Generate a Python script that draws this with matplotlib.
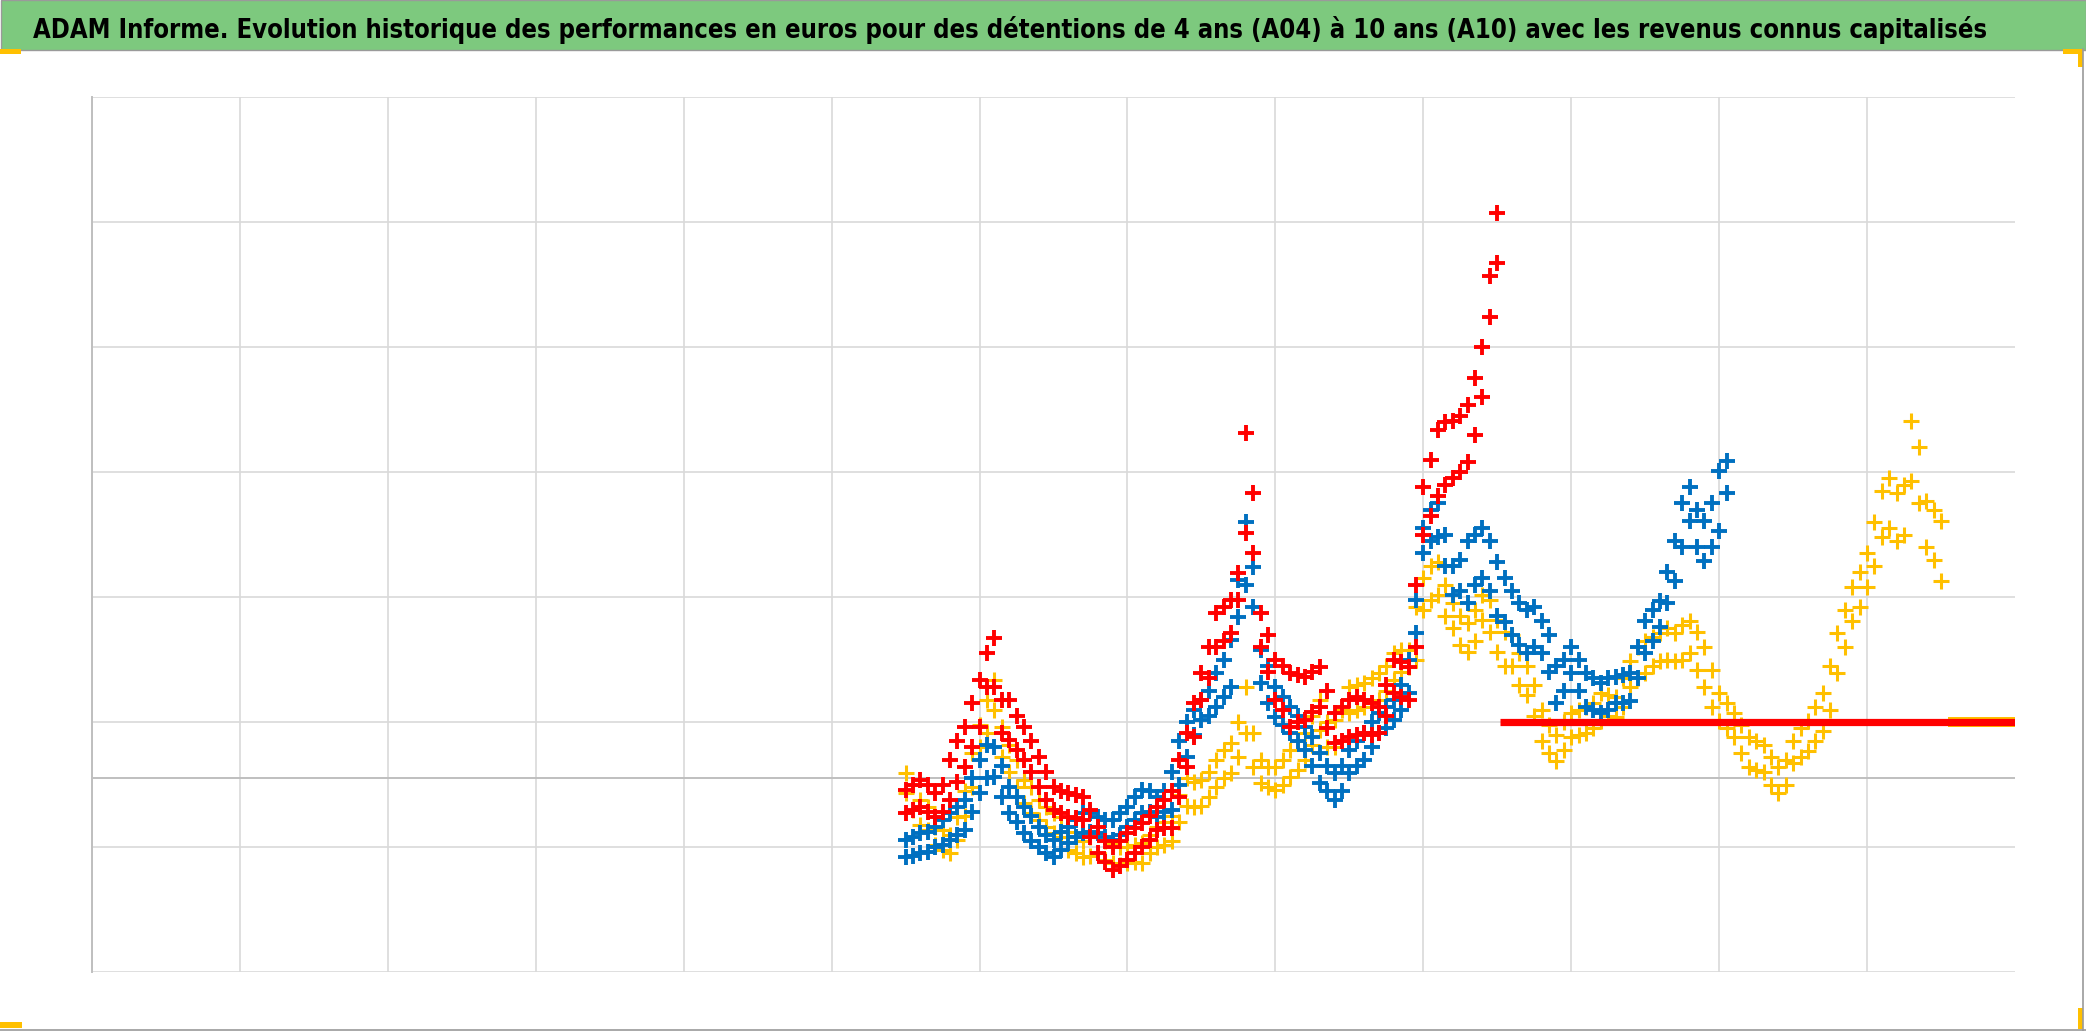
import matplotlib
matplotlib.use("Agg")
import matplotlib.pyplot as plt
from matplotlib.patches import Rectangle
from matplotlib.lines import Line2D

W, H = 2086, 1031

TITLE = ("ADAM Informe. Evolution historique des performances en euros pour des "
         "détentions de 4 ans (A04) à 10 ans (A10) avec les revenus connus capitalisés")

# yellow series (upper / lower edge of the cloud), read on whole tenths
yel_x = [5.5, 5.6, 5.7, 5.8, 5.9, 6.0, 6.1, 6.2, 6.3, 6.4, 6.5, 6.6, 6.7, 6.8, 6.9,
         7.0, 7.1, 7.2, 7.3, 7.4, 7.5, 7.6, 7.7, 7.8, 7.9, 8.0, 8.1, 8.2, 8.3, 8.4,
         8.5, 8.6, 8.7, 8.8, 8.9, 8.95, 9.0, 9.1, 9.2, 9.3, 9.4, 9.5, 9.6, 9.7, 9.8,
         9.9, 10.0, 10.1, 10.2, 10.3, 10.4, 10.5, 10.6, 10.7, 10.8, 10.9, 11.0, 11.1,
         11.2, 11.3, 11.4, 11.5, 11.6, 11.7, 11.8, 11.9, 12.0, 12.1, 12.2, 12.3, 12.4,
         12.5]
yel_hi = [1.59, 1.38, 1.16, 1.10, 1.45, 1.98, 2.34, 1.82, 1.54, 1.38, 1.27, 1.12, 1.05,
          1.11, 1.03, 1.00, 1.03, 1.16, 1.25, 1.55, 1.54, 1.70, 1.83, 2.28, 1.70, 1.64,
          1.78, 1.91, 2.18, 2.02, 2.28, 2.31, 2.39, 2.55, 2.58, 2.92, 3.15, 3.28, 2.95,
          2.79, 3.02, 2.82, 2.70, 2.45, 2.10, 1.90, 2.07, 2.12, 2.23, 2.20, 2.49, 2.65,
          2.71, 2.71, 2.81, 2.60, 2.23, 2.07, 1.88, 1.82, 1.64, 1.85, 2.01, 2.23, 2.71,
          3.08, 3.35, 3.85, 3.83, 4.41, 3.77, 3.61]
yel_lo = [1.43, 1.18, 1.02, 0.95, 1.25, 1.80, 2.10, 1.60, 1.35, 1.22, 1.11, 0.98, 0.92,
          0.95, 0.87, 0.87, 0.87, 1.00, 1.05, 1.33, 1.33, 1.48, 1.59, 1.91, 1.51, 1.46,
          1.56, 1.70, 1.94, 1.80, 2.07, 2.12, 2.18, 2.34, 2.44, 2.50, 2.90, 3.02, 2.75,
          2.56, 2.82, 2.56, 2.45, 2.22, 1.85, 1.69, 1.88, 1.91, 2.01, 2.04, 2.28, 2.39,
          2.49, 2.49, 2.55, 2.28, 2.01, 1.88, 1.64, 1.60, 1.43, 1.67, 1.77, 1.93, 2.39,
          2.81, 3.08, 3.48, 3.45, 3.93, 3.40, 3.13]
# yellow, read half-way between the tenths
yel_x2 = [5.55, 5.65, 5.75, 5.85, 5.95, 6.05, 6.15, 6.25, 6.35, 6.45, 6.55, 6.65, 6.75,
          6.85, 6.95, 7.05, 7.15, 7.25, 7.35, 7.45, 7.55, 7.65, 7.75, 7.85, 7.95, 8.05,
          8.15, 8.25, 8.35, 8.45, 8.55, 8.65, 8.75, 8.85, 9.05, 9.15, 9.25, 9.35, 9.45,
          9.55, 9.65, 9.75, 9.85, 9.95, 10.05, 10.15, 10.25, 10.35, 10.45, 10.55, 10.65,
          10.75, 10.85, 10.95, 11.05, 11.15, 11.25, 11.35, 11.45, 11.55, 11.65, 11.75,
          11.85, 11.95, 12.05, 12.15, 12.25, 12.35, 12.45]
yel_hi2 = [1.50, 1.32, 1.14, 1.24, 1.75, 2.18, 1.96, 1.70, 1.48, 1.32, 1.24, 1.08, 1.08,
           1.05, 1.00, 1.02, 1.10, 1.20, 1.42, 1.52, 1.60, 1.78, 2.00, 1.91, 1.64, 1.70,
           1.85, 2.05, 2.00, 2.10, 2.30, 2.35, 2.45, 2.58, 3.25, 3.10, 2.85, 2.90, 2.98,
           2.72, 2.55, 2.30, 1.98, 2.00, 2.10, 2.15, 2.22, 2.35, 2.60, 2.68, 2.75, 2.78,
           2.72, 2.42, 2.15, 1.98, 1.85, 1.72, 1.70, 1.95, 2.12, 2.45, 2.90, 3.20, 3.60,
           3.95, 3.90, 4.20, 3.70]
yel_lo2 = [1.30, 1.14, 0.98, 1.06, 1.48, 1.91, 1.72, 1.48, 1.27, 1.16, 1.08, 0.95, 0.93,
           0.90, 0.86, 0.88, 0.95, 1.02, 1.20, 1.32, 1.40, 1.55, 1.72, 1.64, 1.48, 1.50,
           1.62, 1.82, 1.80, 1.85, 2.10, 2.15, 2.25, 2.40, 2.98, 2.85, 2.62, 2.65, 2.72,
           2.45, 2.30, 2.05, 1.75, 1.78, 1.90, 1.95, 2.05, 2.12, 2.35, 2.45, 2.50, 2.50,
           2.42, 2.12, 1.95, 1.75, 1.62, 1.50, 1.50, 1.72, 1.85, 2.10, 2.60, 2.92, 3.25,
           3.55, 3.50, 3.75, 3.30]
yel_flat_x = [12.55, 13.0]
yel_flat_y = [2.0, 2.0]

# blue series
blu_x = [5.5, 5.6, 5.7, 5.8, 5.9, 6.0, 6.1, 6.2, 6.3, 6.4, 6.5, 6.6, 6.7, 6.8, 6.9,
         7.0, 7.1, 7.2, 7.3, 7.4, 7.5, 7.6, 7.7, 7.75, 7.8, 7.85, 7.9, 8.0, 8.1, 8.2,
         8.3, 8.4, 8.5, 8.6, 8.7, 8.8, 8.9, 8.95, 9.0, 9.1, 9.2, 9.3, 9.4, 9.5, 9.6,
         9.7, 9.8, 9.9, 10.0, 10.1, 10.2, 10.3, 10.4, 10.5, 10.6, 10.7, 10.8, 10.9,
         11.0, 11.05]
blu_hi = [1.06, 1.11, 1.16, 1.27, 1.38, 1.70, 1.80, 1.48, 1.32, 1.16, 1.06, 1.16, 1.27,
          1.24, 1.22, 1.32, 1.46, 1.40, 1.60, 2.00, 2.18, 2.39, 2.66, 3.14, 3.60, 3.24,
          2.58, 2.28, 2.12, 1.96, 1.75, 1.59, 1.78, 1.91, 2.07, 2.18, 2.50, 2.98, 3.55,
          3.75, 3.25, 3.45, 3.55, 3.28, 3.05, 2.90, 2.81, 2.45, 2.60, 2.39, 2.31, 2.36,
          2.39, 2.81, 2.97, 3.45, 3.88, 3.61, 4.01, 4.09]
blu_lo = [0.92, 0.95, 1.00, 1.06, 1.14, 1.43, 1.56, 1.27, 1.11, 1.00, 0.92, 1.03, 1.11,
          1.11, 1.06, 1.16, 1.27, 1.24, 1.30, 1.72, 2.02, 2.12, 2.28, 2.84, 3.10, 2.92,
          2.31, 2.04, 1.91, 1.78, 1.51, 1.38, 1.59, 1.70, 1.91, 2.02, 2.23, 2.71, 3.35,
          3.48, 3.02, 2.95, 3.15, 2.85, 2.70, 2.55, 2.55, 2.15, 2.39, 2.12, 2.07, 2.15,
          2.17, 2.55, 2.76, 3.13, 3.61, 3.29, 3.53, 3.83]
blu_x2 = [5.55, 5.65, 5.75, 5.85, 5.95, 6.05, 6.15, 6.25, 6.35, 6.45, 6.55, 6.65, 6.75,
          6.85, 6.95, 7.05, 7.15, 7.25, 7.35, 7.45, 7.55, 7.65, 7.95, 8.05, 8.15, 8.25,
          8.35, 8.45, 8.55, 8.65, 8.75, 8.85, 9.05, 9.15, 9.25, 9.35, 9.45, 9.55, 9.65,
          9.75, 9.85, 9.95, 10.05, 10.15, 10.25, 10.35, 10.45, 10.55, 10.65, 10.75,
          10.85, 10.95]
blu_hi2 = [1.08, 1.12, 1.22, 1.32, 1.55, 1.82, 1.65, 1.40, 1.25, 1.10, 1.12, 1.22, 1.27,
           1.22, 1.27, 1.40, 1.45, 1.45, 1.85, 2.10, 2.25, 2.50, 2.45, 2.20, 2.05, 1.88,
           1.65, 1.65, 1.85, 2.00, 2.12, 2.30, 3.70, 3.50, 3.30, 3.50, 3.45, 3.15, 2.95,
           2.92, 2.70, 2.50, 2.50, 2.35, 2.35, 2.38, 2.60, 2.90, 3.20, 3.75, 3.70, 3.75]
blu_lo2 = [0.93, 0.96, 1.02, 1.10, 1.28, 1.55, 1.40, 1.20, 1.05, 0.95, 0.98, 1.08, 1.12,
           1.08, 1.10, 1.22, 1.28, 1.28, 1.50, 1.90, 2.05, 2.20, 2.15, 1.98, 1.85, 1.65,
           1.45, 1.45, 1.65, 1.80, 1.95, 2.10, 3.45, 3.25, 3.05, 3.10, 3.05, 2.80, 2.62,
           2.60, 2.40, 2.25, 2.25, 2.10, 2.10, 2.15, 2.35, 2.65, 2.95, 3.40, 3.40, 3.40]

# red series
red_x = [5.5, 5.6, 5.7, 5.8, 5.9, 6.0, 6.05, 6.1, 6.15, 6.2, 6.3, 6.4, 6.5, 6.6, 6.7,
         6.8, 6.9, 7.0, 7.1, 7.2, 7.3, 7.4, 7.5, 7.6, 7.7, 7.75, 7.8, 7.85, 7.9, 8.0,
         8.1, 8.2, 8.3, 8.4, 8.5, 8.6, 8.7, 8.8, 8.9, 8.95, 9.0, 9.1, 9.2, 9.3, 9.4,
         9.45, 9.5]
red_hi = [1.46, 1.54, 1.43, 1.70, 1.96, 2.34, 2.55, 2.67, 2.18, 2.18, 1.96, 1.72, 1.48,
          1.43, 1.40, 1.16, 1.00, 1.11, 1.19, 1.32, 1.45, 1.91, 2.39, 2.87, 2.98, 3.19,
          4.31, 3.83, 2.87, 2.50, 2.39, 2.36, 2.44, 2.07, 2.18, 2.18, 2.12, 2.50, 2.44,
          3.10, 3.88, 4.34, 4.41, 4.54, 5.00, 5.57, 6.07]
red_lo = [1.27, 1.32, 1.24, 1.38, 1.64, 1.96, 2.28, 2.28, 1.91, 1.86, 1.70, 1.48, 1.30,
          1.24, 1.22, 0.95, 0.82, 0.90, 1.00, 1.14, 1.15, 1.64, 2.18, 2.60, 2.71, 2.98,
          3.51, 3.35, 2.60, 2.18, 1.96, 2.02, 2.12, 1.83, 1.88, 1.91, 1.91, 2.23, 2.18,
          2.60, 3.50, 3.81, 3.95, 4.08, 4.60, 5.24, 5.67]
red_x2 = [5.55, 5.65, 5.75, 5.85, 5.95, 6.25, 6.35, 6.45, 6.55, 6.65, 6.75, 6.85, 6.95,
          7.05, 7.15, 7.25, 7.35, 7.45, 7.55, 7.65, 7.95, 8.05, 8.15, 8.25, 8.35, 8.45,
          8.55, 8.65, 8.75, 8.85, 9.05, 9.15, 9.25, 9.35]
red_hi2 = [1.50, 1.50, 1.50, 1.85, 2.15, 2.05, 1.85, 1.60, 1.45, 1.42, 1.30, 1.05, 1.05,
           1.15, 1.25, 1.38, 1.70, 2.15, 2.60, 2.92, 2.70, 2.45, 2.38, 2.40, 2.25, 2.12,
           2.20, 2.15, 2.30, 2.48, 4.10, 4.40, 4.45, 4.75]
red_lo2 = [1.30, 1.28, 1.28, 1.52, 1.80, 1.78, 1.60, 1.38, 1.27, 1.23, 1.08, 0.88, 0.85,
           0.95, 1.06, 1.15, 1.40, 1.88, 2.35, 2.65, 2.40, 2.10, 2.00, 2.08, 1.95, 1.85,
           1.90, 1.90, 2.05, 2.20, 3.65, 3.90, 4.00, 4.30]
red_flat_x = [9.52, 13.0]
red_flat_y = [2.0, 2.0]

AXIS_LEVEL = 1.55

YELLOW = "#FFC000"
BLUE = "#0070C0"
RED = "#FF0000"
GREEN = "#7DC97E"
GRID = "#D9D9D9"
AXGREY = "#BFBFBF"

fig = plt.figure(figsize=(W / 100, H / 100), dpi=100)
ax = fig.add_axes([92 / W, 1 - 972 / H, (2015 - 92) / W, (972 - 97) / H])

ax.set_xlim(0, 13)
ax.set_ylim(0, 7)
ax.set_xticks(range(0, 13))
ax.set_yticks(range(0, 8))
ax.grid(True, color=GRID, lw=1.2)
ax.set_axisbelow(True)
ax.tick_params(length=0, labelbottom=False, labelleft=False)
for side in ["top", "right", "bottom"]:
    ax.spines[side].set_visible(False)
ax.spines["left"].set_color(AXGREY)
ax.spines["left"].set_linewidth(1.4)
ax.axhline(AXIS_LEVEL, color=AXGREY, lw=1.4, zorder=1)

mk = dict(ls="none", marker="+", ms=12)
ax.plot(yel_flat_x, yel_flat_y, color=YELLOW, lw=7.2, solid_capstyle="butt", zorder=2)
for xs, ys in [(yel_x, yel_hi), (yel_x, yel_lo), (yel_x2, yel_hi2), (yel_x2, yel_lo2)]:
    ax.plot(xs, ys, color=YELLOW, mew=2.2, zorder=2, **mk)
for xs, ys in [(blu_x, blu_hi), (blu_x, blu_lo), (blu_x2, blu_hi2), (blu_x2, blu_lo2)]:
    ax.plot(xs, ys, color=BLUE, mew=2.8, zorder=3, **mk)
for xs, ys in [(red_x, red_hi), (red_x, red_lo), (red_x2, red_hi2), (red_x2, red_lo2)]:
    ax.plot(xs, ys, color=RED, mew=2.8, zorder=4, **mk)
ax.plot(red_flat_x, red_flat_y, color=RED, lw=5.2, solid_capstyle="butt", zorder=5)


def px_rect(x0, y0, w, h, **kw):
    # rectangle given in pixels from the top-left corner
    return Rectangle((x0 / W, 1 - (y0 + h) / H), w / W, h / H,
                     transform=fig.transFigure, **kw)


# title band and frame
fig.patches.append(px_rect(0.5, 0.5, W - 1, 49, facecolor=GREEN, edgecolor="#9A9A9A", lw=1))
fig.lines.append(Line2D([0, 1], [1.5 / H, 1.5 / H], transform=fig.transFigure, color="#9A9A9A", lw=1.2))
fig.lines.append(Line2D([2083 / W, 2083 / W], [0, 1 - 49 / H], transform=fig.transFigure,
                        color="#9A9A9A", lw=1.2))
for r in [(0, 49, 21, 5), (0, 1022, 22, 6), (2063, 49, 20, 5), (2078, 49, 5, 18),
          (2078, 1008, 5, 21)]:
    fig.patches.append(px_rect(*r, facecolor=YELLOW, edgecolor="none"))

fs = 24
title = fig.text(33 / W, 1 - 38 / H, TITLE, ha="left", va="baseline", fontsize=fs,
                 fontweight="bold", family=["Liberation Sans Narrow", "DejaVu Sans"],
                 stretch="condensed", color="black")
fig.canvas.draw()
w = title.get_window_extent().width
title.set_fontsize(fs * 1962 / w)

fig.savefig("out.png", dpi=100)
